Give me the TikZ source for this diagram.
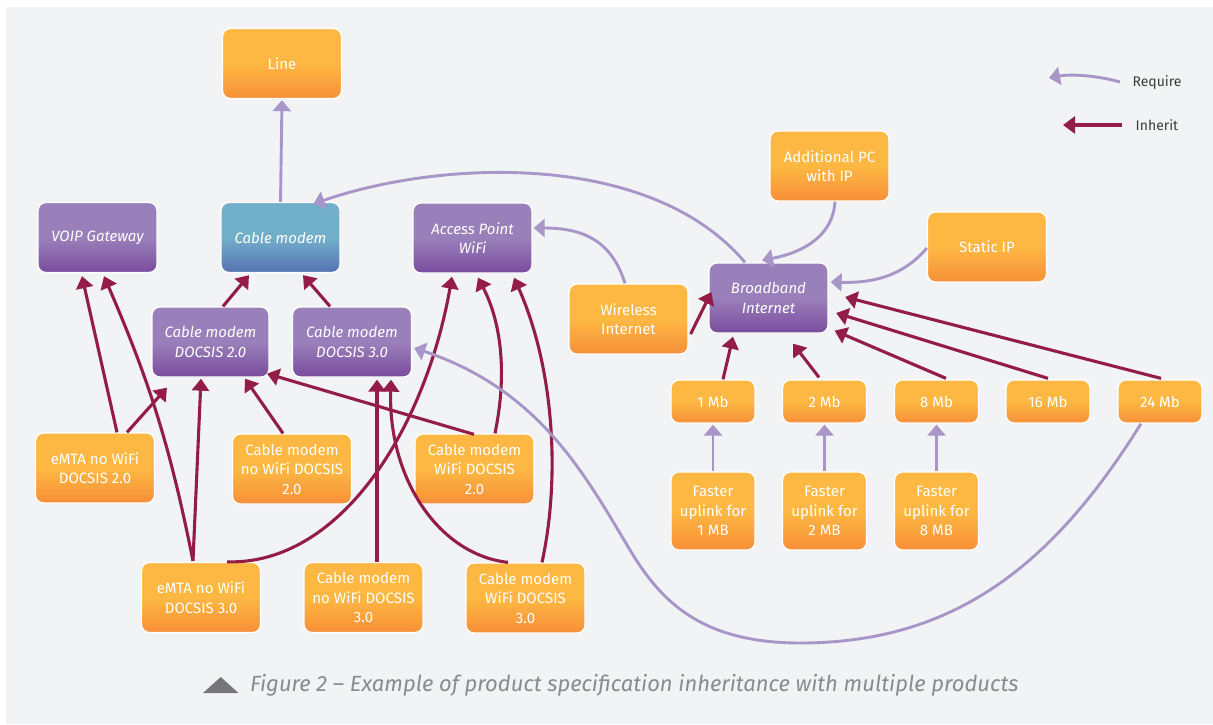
\documentclass[tikz,border=0pt]{standalone}
\usepackage{fontspec}
\setmainfont{Fira Sans}
\usetikzlibrary{arrows.meta,calc}
\definecolor{bgc}{HTML}{F1F3F5}
\definecolor{oT}{HTML}{FDB843}
\definecolor{oB}{HTML}{F78F38}
\definecolor{pT}{HTML}{9A80BA}
\definecolor{pB}{HTML}{7A4C9D}
\definecolor{bT}{HTML}{72AFCA}
\definecolor{bB}{HTML}{5573B0}
\definecolor{inhc}{HTML}{931D47}
\definecolor{reqc}{HTML}{A996C9}
\definecolor{capc}{HTML}{8A8A8F}
\definecolor{legc}{HTML}{3C3C3C}
\begin{document}
\begin{tikzpicture}[x=1pt,y=-1pt,
  base/.style={rectangle, rounded corners=8pt, draw=white, line width=1.3pt, inner sep=0pt, align=center, text=white, font=\fontsize{15}{19.5}\selectfont},
  obox/.style={base, top color=oT, bottom color=oB, middle color=oT, minimum width=119pt, minimum height=70pt},
  pbox/.style={base, top color=pT, bottom color=pB, middle color=pT, minimum width=119pt, minimum height=70pt, font=\fontsize{15}{19.5}\selectfont\itshape},
  bbox/.style={base, top color=bT, bottom color=bB, middle color=bT, minimum width=119pt, minimum height=70pt, font=\fontsize{15}{19.5}\selectfont\itshape},
  sbox/.style={base, top color=oT, bottom color=oB, middle color=oT, minimum width=84pt, minimum height=43pt},
  fbox/.style={base, top color=oT, bottom color=oB, middle color=oT, minimum width=84pt, minimum height=78pt},
  inh/.style={draw=inhc, line width=3.1pt, -{Triangle[length=12pt,width=17pt]}},
  rq/.style={draw=reqc, line width=2.9pt, -{Triangle[length=11pt,width=18pt]}},
  legt/.style={text=legc, font=\fontsize{14}{17}\selectfont, inner sep=0pt}
]
\useasboundingbox (0,0) rectangle (1213,724);
\fill[white] (0,0) rectangle (1213,724);
\fill[bgc] (6,7) rectangle (1213,724);

% nodes
\node[obox] (line) at (282,63.5) {Line};
\node[pbox] (voip) at (97.5,237.5) {VOIP Gateway};
\node[bbox] (cm) at (280.5,237.5) {Cable modem};
\node[pbox] (ap) at (472.5,238) {Access Point\\WiFi};
\node[pbox, minimum width=117pt] (d20) at (210.5,342) {Cable modem\\DOCSIS 2.0};
\node[pbox] (d30) at (352,342) {Cable modem\\DOCSIS 3.0};
\node[obox] (e20) at (95,468) {eMTA no WiFi\\DOCSIS 2.0};
\node[obox] (nw20) at (292,469) {Cable modem\\no WiFi DOCSIS\\2.0};
\node[obox] (w20) at (474.5,469) {Cable modem\\WiFi DOCSIS\\2.0};
\node[obox] (e30) at (201,597.5) {eMTA no WiFi\\DOCSIS 3.0};
\node[obox] (nw30) at (363.5,597.5) {Cable modem\\no WiFi DOCSIS\\3.0};
\node[obox] (w30) at (525.5,598) {Cable modem\\WiFi DOCSIS\\3.0};
\node[obox] (wi) at (628.5,319) {Wireless\\Internet};
\node[pbox] (bb) at (768.5,298) {Broadband\\Internet};
\node[obox] (apc) at (829.5,166) {Additional PC\\with IP};
\node[obox] (sip) at (987,247) {Static IP};
\node[sbox] (m1) at (713,401.5) {1 Mb};
\node[sbox] (m2) at (824.5,401.5) {2 Mb};
\node[sbox] (m8) at (936.5,401.5) {8 Mb};
\node[sbox] (m16) at (1048,401.5) {16 Mb};
\node[sbox] (m24) at (1160,401.5) {24 Mb};
\node[fbox] (f1) at (713,511) {Faster\\uplink for\\1 MB};
\node[fbox] (f2) at (824.5,511) {Faster\\uplink for\\2 MB};
\node[fbox] (f8) at (936.5,511) {Faster\\uplink for\\8 MB};

% inherit connectors
\draw[inh] ($(e20.north)+(22,0)$) -- ($(voip.south)+(-15.5,3)$);
\draw[inh] ($(e30.north)+(-8,-1)$) to[bend right=6] ($(voip.south)+(6.5,3)$);
\draw[inh] ($(e20.north)+(32,0)$) -- ($(d20.south)+(-43.5,10)$);
\draw[inh] ($(e30.north)+(-8,-1)$) -- ($(d20.south)+(-9.5,1)$);
\draw[inh] ($(nw20.north)+(-9,0)$) -- ($(d20.south)+(34.5,1)$);
\draw[inh] ($(w20.north)+(-0.5,1)$) -- ($(d20.south)+(56.5,-4)$);
\draw[inh] ($(e30.north)+(26,0)$) .. controls (340,565) and (425,430) .. ($(ap.south)+(-20.5,3)$);
\draw[inh] ($(w20.north)+(20.5,0)$) .. controls (508,370) and (500,320) .. ($(ap.south)+(5.5,4)$);
\draw[inh] ($(w30.north)+(16.5,0)$) .. controls (560,480) and (555,370) .. ($(ap.south)+(41.5,4)$);
\draw[inh] ($(nw30.north)+(13.5,0)$) -- ($(d30.south)+(25,2)$);
\draw[inh] ($(w30.north)+(-17.5,0)$) .. controls (440,555) and (388,480) .. ($(d30.south)+(39,2)$);
\draw[inh] ($(d20.north)+(12.5,0)$) -- ($(cm.south)+(-31.5,2)$);
\draw[inh] ($(d30.north)+(-22,0)$) -- ($(cm.south)+(22.5,2)$);
\draw[inh] ($(wi.east)+(2,15)$) -- ($(bb.west)+(3,-6)$);
\draw[inh] ($(m1.north)+(10,0)$) -- ($(bb.south)+(-35.5,3)$);
\draw[inh] ($(m2.north)+(-5.5,-2)$) -- ($(bb.south)+(24.5,10)$);
\draw[inh] ($(m8.north)+(9.5,-1)$) -- ($(bb.south east)+(6,-3)$);
\draw[inh] ($(m16.north)+(0,-1)$) -- ($(bb.east)+(7.5,15)$);
\draw[inh] ($(m24.north)+(1,-1)$) -- ($(bb.east)+(16.5,-1)$);

% require connectors
\draw[rq] (cm.north) -- ($(line.south)+(0,1)$);
\draw[rq] ($(bb.north)+(-23.5,0)$) .. controls (650,150) and (440,160) .. ($(cm.north)+(33,2)$);
\draw[rq] ($(wi.north)+(-3.5,0)$) .. controls (612,242) and (585,228) .. ($(ap.east)+(1,-10)$);
\draw[rq] ($(apc.south)+(5.5,0)$) .. controls (833,235) and (805,252) .. ($(bb.north)+(-6.5,-2)$);
\draw[rq] ($(sip.west)+(0,1)$) .. controls (900,280) and (865,283) .. ($(bb.east)+(2,-16)$);
\draw[rq] (f1.north) -- ($(m1.south)+(0,1)$);
\draw[rq] (f2.north) -- ($(m2.south)+(0,1)$);
\draw[rq] (f8.north) -- ($(m8.south)+(0,1)$);
\draw[rq] ($(m24.south)+(-19,0)$) .. controls (1050,570) and (950,643) .. (800,643)
   .. controls (700,643) and (660,600) .. (630,550)
   .. controls (585,475) and (540,390) .. ($(d30.east)+(2,6)$);

% legend
\node[legt] (lreq) at (1157,83) {Require};
\node[legt] (linh) at (1157,125) {Inherit};
\coordinate (reqA) at (1120,82);
\coordinate (reqB) at (1049,78);
\coordinate (inhA) at (1122,125);
\coordinate (inhB) at (1063,125);
\draw[rq] (reqA) .. controls (1095,75) and (1070,74) .. (reqB);
\draw[inh] (inhA) -- (inhB);

% caption
\fill[capc!85!black] (203,693) -- (238.5,693) -- (220.75,677) -- cycle;
\node[anchor=west, text=capc, font=\fontsize{22}{26}\selectfont\itshape, inner sep=0pt] (cap) at (250,685) {Figure 2 – Example of product specification inheritance with multiple products};
\end{tikzpicture}
\end{document}
